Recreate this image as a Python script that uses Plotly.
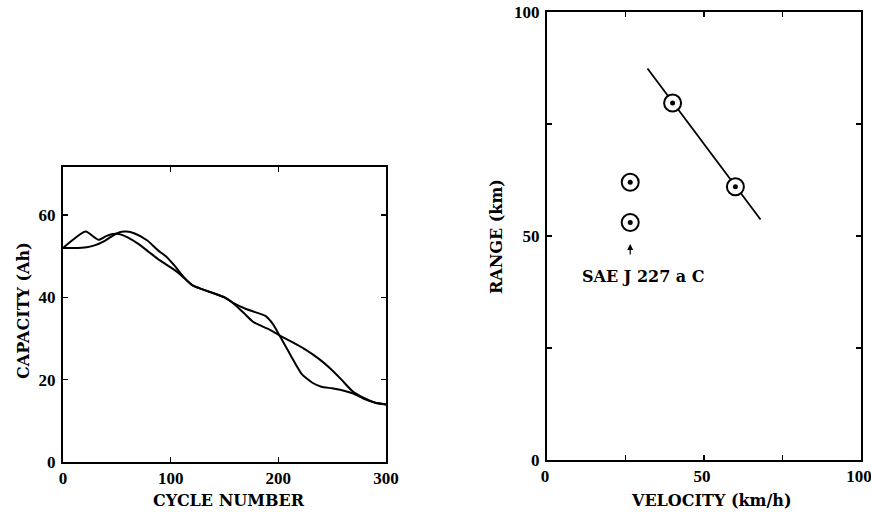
import plotly.graph_objects as go

# ---- Left panel: capacity vs cycle number ----
cycle_a = [0, 21, 33, 40, 46, 52, 60, 70, 80, 90, 100, 106, 113, 120, 127, 140, 150, 158,
           170, 180, 188, 195, 201, 210, 222, 232, 240, 250, 260, 269, 280, 290, 300]
cap_a = [52, 56, 54, 54.9, 55.4, 55.4, 54.6, 53, 51, 49, 47.3, 46.2, 44.6, 43, 42.2, 41, 40, 38.7,
         37.2, 36.3, 35.5, 33.5, 30.8, 26.6, 21.3, 19.2, 18.3, 17.9, 17.4, 16.7, 15.3, 14.4, 14.0]

cycle_b = [0, 10, 22, 30, 37, 45, 52, 59, 66, 78, 88, 96, 104, 112, 120, 127, 140, 150, 158,
           168, 177, 190, 201, 214, 226, 238, 248, 258, 269, 280, 290, 300]
cap_b = [52, 52, 52.2, 52.7, 53.5, 54.8, 55.8, 56, 55.6, 53.9, 51.5, 49.9, 47.6, 45, 43, 42.2, 41, 40, 38.6,
         36.2, 34, 32.4, 30.8, 29, 27.2, 25, 22.8, 20.2, 17.2, 15.5, 14.4, 14.0]

cycle_ticks = [0, 100, 200, 300]
cap_ticks = [0, 20, 40, 60]

# ---- Right panel: range vs velocity ----
vel_points = [26.5, 26.5, 40, 60]
range_points = [62, 53, 79.7, 61]
vel_line = [32, 68]
range_line = [87.4, 53.7]

vel_tickvals = [0, 25, 50, 75, 100]
vel_ticktext = ["0", "", "50", "", "100"]
range_tickvals = [0, 25, 50, 75, 100]
range_ticktext = ["0", "", "50", "", "100"]

W, H = 871, 512
TICKFONT = dict(family="Liberation Serif", size=17, color="black", weight="bold")
TITLEFONT = dict(family="DejaVu Serif", size=16, color="black", weight="bold")

fig = go.Figure()

fig.add_trace(go.Scatter(x=cycle_a, y=cap_a, mode="lines", xaxis="x", yaxis="y",
                         line=dict(color="black", width=2, shape="spline", smoothing=0.5),
                         showlegend=False))
fig.add_trace(go.Scatter(x=cycle_b, y=cap_b, mode="lines", xaxis="x", yaxis="y",
                         line=dict(color="black", width=2, shape="spline", smoothing=0.8),
                         showlegend=False))

fig.add_trace(go.Scatter(x=vel_line, y=range_line, mode="lines", xaxis="x2", yaxis="y2",
                         line=dict(color="black", width=1.8), showlegend=False))
fig.add_trace(go.Scatter(x=vel_points, y=range_points, mode="markers", xaxis="x2", yaxis="y2",
                         marker=dict(symbol="circle", size=17, color="white",
                                     line=dict(color="black", width=2)),
                         showlegend=False))
fig.add_trace(go.Scatter(x=vel_points, y=range_points, mode="markers", xaxis="x2", yaxis="y2",
                         marker=dict(symbol="circle", size=5, color="black"),
                         showlegend=False))

def px_x(p):
    return p / W

def px_y(p):
    return 1 - p / H

axis_common = dict(showline=True, linewidth=2, linecolor="black", mirror="ticks",
                   ticks="inside", ticklen=5, tickwidth=1.5, tickcolor="black",
                   showgrid=False, zeroline=False, tickfont=TICKFONT, fixedrange=True,
                   automargin=False, ticklabeloverflow="allow")

fig.update_layout(
    template="none",
    width=W, height=H,
    margin=dict(l=0, r=0, t=0, b=0, pad=0),
    paper_bgcolor="white", plot_bgcolor="white",
    showlegend=False,
    xaxis=dict(domain=[px_x(63), px_x(386)], range=[0, 300], tickvals=cycle_ticks,
               anchor="y", **axis_common),
    yaxis=dict(domain=[px_y(462), px_y(167)], range=[0, 71.7], tickvals=cap_ticks,
               anchor="x", ticklabelstandoff=2, **axis_common),
    xaxis2=dict(domain=[px_x(547), px_x(861)], range=[0, 100], tickvals=vel_tickvals,
                ticktext=vel_ticktext, anchor="y2", ticklabelshift=-2, **axis_common),
    yaxis2=dict(domain=[px_y(460), px_y(12)], range=[0, 100], tickvals=range_tickvals,
                ticktext=range_ticktext, anchor="x2", ticklabelstandoff=2, **axis_common),
)

annots = [
    dict(text="CAPACITY (Ah)", x=px_x(23), y=px_y(311), textangle=-90),
    dict(text="CYCLE NUMBER", x=px_x(229), y=px_y(500)),
    dict(text="RANGE (km)", x=px_x(496), y=px_y(237), textangle=-90),
    dict(text="VELOCITY (km/h)", x=px_x(711), y=px_y(500)),
]
for a in annots:
    fig.add_annotation(xref="paper", yref="paper", showarrow=False, font=TITLEFONT,
                       xanchor="center", yanchor="middle", **a)

fig.add_annotation(xref="x2", yref="y2", x=30.8, y=40.9, text="SAE J 227 a C",
                   showarrow=False, font=dict(family="DejaVu Serif", size=16, color="black",
                                              weight="bold"),
                   xanchor="center", yanchor="middle")
fig.add_annotation(xref="x2", yref="y2", x=26.5, y=48.2, text="", showarrow=True,
                   ax=0, ay=12, arrowhead=2, arrowsize=1, arrowwidth=1.2, arrowcolor="black")

fig.write_html(
    "out.html",
    config={"displayModeBar": False, "staticPlot": True},
    post_script="document.body.style.margin='0';document.body.style.overflow='hidden';",
)
